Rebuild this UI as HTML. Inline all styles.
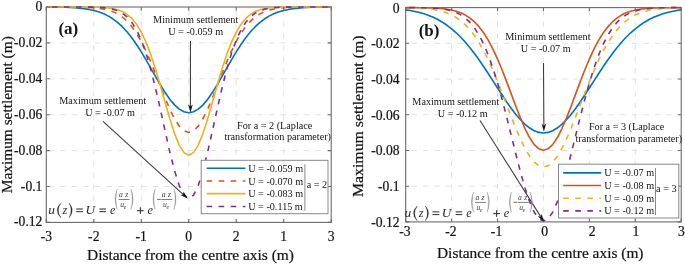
<!DOCTYPE html>
<html><head><meta charset="utf-8"><style>html,body{margin:0;padding:0;background:#fff;}svg{display:block;will-change:transform;}</style></head>
<body>
<svg width="685" height="264" viewBox="0 0 685 264" font-family="&quot;Liberation Serif&quot;, serif">
<rect width="685" height="264" fill="#fff"/>
<path d="M93.78,7.00V222.40M141.27,7.00V222.40M188.75,7.00V222.40M236.23,7.00V222.40M283.72,7.00V222.40" stroke="#dcdcdc" stroke-width="0.9" stroke-dasharray="5.2 6.4" stroke-dashoffset="-3.2" fill="none"/>
<path d="M46.30,42.90H331.20M46.30,78.80H331.20M46.30,114.70H331.20M46.30,150.60H331.20M46.30,186.50H331.20" stroke="#dcdcdc" stroke-width="0.9" stroke-dasharray="5.2 6.4" stroke-dashoffset="-2.3" fill="none"/>
<rect x="46.30" y="7.00" width="284.90" height="215.40" fill="none" stroke="#6a6a6a" stroke-width="1.1"/>
<polyline points="46.30,7.05 51.05,7.08 55.80,7.13 60.55,7.20 65.29,7.32 70.04,7.50 74.79,7.76 79.54,8.13 84.29,8.67 89.04,9.41 93.78,10.43 98.53,11.79 103.28,13.57 108.03,15.87 112.78,18.78 117.53,22.36 122.27,26.70 127.02,31.83 131.77,37.76 136.52,44.47 141.27,51.86 146.02,59.79 150.76,68.08 155.51,76.46 160.26,84.65 165.01,92.33 169.76,99.17 174.50,104.87 179.25,109.16 184.00,111.82 188.75,112.73 193.50,111.82 198.25,109.16 203.00,104.87 207.74,99.17 212.49,92.33 217.24,84.65 221.99,76.46 226.74,68.08 231.48,59.79 236.23,51.86 240.98,44.47 245.73,37.76 250.48,31.83 255.23,26.70 259.98,22.36 264.72,18.78 269.47,15.87 274.22,13.57 278.97,11.79 283.72,10.43 288.46,9.41 293.21,8.67 297.96,8.13 302.71,7.76 307.46,7.50 312.21,7.32 316.95,7.20 321.70,7.13 326.45,7.08 331.20,7.05" stroke="#0072BD" stroke-width="1.6" fill="none" stroke-linejoin="round"/>
<polyline points="46.30,7.00 51.05,7.00 55.80,7.01 60.55,7.01 65.29,7.02 70.04,7.04 74.79,7.07 79.54,7.14 84.29,7.24 89.04,7.42 93.78,7.72 98.53,8.19 103.28,8.91 108.03,10.00 112.78,11.60 117.53,13.87 122.27,16.98 127.02,21.15 131.77,26.54 136.52,33.30 141.27,41.49 146.02,51.08 150.76,61.91 155.51,73.64 160.26,85.82 165.01,97.85 169.76,109.05 174.50,118.70 179.25,126.15 184.00,130.86 188.75,132.47 193.50,130.86 198.25,126.15 203.00,118.70 207.74,109.05 212.49,97.85 217.24,85.82 221.99,73.64 226.74,61.91 231.48,51.08 236.23,41.49 240.98,33.30 245.73,26.54 250.48,21.15 255.23,16.98 259.98,13.87 264.72,11.60 269.47,10.00 274.22,8.91 278.97,8.19 283.72,7.72 288.46,7.42 293.21,7.24 297.96,7.14 302.71,7.07 307.46,7.04 312.21,7.02 316.95,7.01 321.70,7.01 326.45,7.00 331.20,7.00" stroke="#D95319" stroke-width="1.6" fill="none" stroke-dasharray="5.6 6.4" stroke-dashoffset="-5.5" stroke-linejoin="round"/>
<polyline points="46.30,7.00 51.05,7.00 55.80,7.00 60.55,7.00 65.29,7.00 70.04,7.00 74.79,7.01 79.54,7.01 84.29,7.03 89.04,7.06 93.78,7.12 98.53,7.24 103.28,7.47 108.03,7.87 112.78,8.57 117.53,9.72 122.27,11.55 127.02,14.35 131.77,18.46 136.52,24.25 141.27,32.06 146.02,42.13 150.76,54.52 155.51,69.05 160.26,85.18 165.01,102.07 169.76,118.56 174.50,133.34 179.25,145.09 184.00,152.65 188.75,155.27 193.50,152.65 198.25,145.09 203.00,133.34 207.74,118.56 212.49,102.07 217.24,85.18 221.99,69.05 226.74,54.52 231.48,42.13 236.23,32.06 240.98,24.25 245.73,18.46 250.48,14.35 255.23,11.55 259.98,9.72 264.72,8.57 269.47,7.87 274.22,7.47 278.97,7.24 283.72,7.12 288.46,7.06 293.21,7.03 297.96,7.01 302.71,7.01 307.46,7.00 312.21,7.00 316.95,7.00 321.70,7.00 326.45,7.00 331.20,7.00" stroke="#EDB120" stroke-width="1.6" fill="none" stroke-linejoin="round"/>
<polyline points="46.30,7.00 51.05,7.00 55.80,7.00 60.55,7.00 65.29,7.00 70.04,7.00 74.79,7.01 79.54,7.02 84.29,7.04 89.04,7.08 93.78,7.17 98.53,7.34 103.28,7.65 108.03,8.20 112.78,9.15 117.53,10.70 122.27,13.15 127.02,16.88 131.77,22.31 136.52,29.93 141.27,40.14 146.02,53.25 150.76,69.32 155.51,88.08 160.26,108.85 165.01,130.53 169.76,151.65 174.50,170.55 179.25,185.55 184.00,195.20 188.75,198.53 193.50,195.20 198.25,185.55 203.00,170.55 207.74,151.65 212.49,130.53 217.24,108.85 221.99,88.08 226.74,69.32 231.48,53.25 236.23,40.14 240.98,29.93 245.73,22.31 250.48,16.88 255.23,13.15 259.98,10.70 264.72,9.15 269.47,8.20 274.22,7.65 278.97,7.34 283.72,7.17 288.46,7.08 293.21,7.04 297.96,7.02 302.71,7.01 307.46,7.00 312.21,7.00 316.95,7.00 321.70,7.00 326.45,7.00 331.20,7.00" stroke="#7E2F8E" stroke-width="1.6" fill="none" stroke-dasharray="5.6 6.4" stroke-dashoffset="-5.7" stroke-linejoin="round"/>
<path d="M46.30,222.40v-3.5M46.30,7.00v3.5M93.78,222.40v-3.5M93.78,7.00v3.5M141.27,222.40v-3.5M141.27,7.00v3.5M188.75,222.40v-3.5M188.75,7.00v3.5M236.23,222.40v-3.5M236.23,7.00v3.5M283.72,222.40v-3.5M283.72,7.00v3.5M331.20,222.40v-3.5M331.20,7.00v3.5M46.30,7.00h3.5M331.20,7.00h-3.5M46.30,42.90h3.5M331.20,42.90h-3.5M46.30,78.80h3.5M331.20,78.80h-3.5M46.30,114.70h3.5M331.20,114.70h-3.5M46.30,150.60h3.5M331.20,150.60h-3.5M46.30,186.50h3.5M331.20,186.50h-3.5M46.30,222.40h3.5M331.20,222.40h-3.5" stroke="#6a6a6a" stroke-width="1.1" fill="none"/>
<text x="46.30" y="241.40" font-size="13.6" text-anchor="middle" fill="#141414" stroke="#141414" stroke-width="0.22" >-3</text>
<text x="93.78" y="241.40" font-size="13.6" text-anchor="middle" fill="#141414" stroke="#141414" stroke-width="0.22" >-2</text>
<text x="141.27" y="241.40" font-size="13.6" text-anchor="middle" fill="#141414" stroke="#141414" stroke-width="0.22" >-1</text>
<text x="188.75" y="241.40" font-size="13.6" text-anchor="middle" fill="#141414" stroke="#141414" stroke-width="0.22" >0</text>
<text x="236.23" y="241.40" font-size="13.6" text-anchor="middle" fill="#141414" stroke="#141414" stroke-width="0.22" >2</text>
<text x="283.72" y="241.40" font-size="13.6" text-anchor="middle" fill="#141414" stroke="#141414" stroke-width="0.22" >1</text>
<text x="331.20" y="241.40" font-size="13.6" text-anchor="middle" fill="#141414" stroke="#141414" stroke-width="0.22" >3</text>
<text x="42.40" y="11.00" font-size="13.6" text-anchor="end" fill="#141414" stroke="#141414" stroke-width="0.22" >0</text>
<text x="42.40" y="46.90" font-size="13.6" text-anchor="end" fill="#141414" stroke="#141414" stroke-width="0.22" >-0.02</text>
<text x="42.40" y="82.80" font-size="13.6" text-anchor="end" fill="#141414" stroke="#141414" stroke-width="0.22" >-0.04</text>
<text x="42.40" y="118.70" font-size="13.6" text-anchor="end" fill="#141414" stroke="#141414" stroke-width="0.22" >-0.06</text>
<text x="42.40" y="154.60" font-size="13.6" text-anchor="end" fill="#141414" stroke="#141414" stroke-width="0.22" >-0.08</text>
<text x="42.40" y="190.50" font-size="13.6" text-anchor="end" fill="#141414" stroke="#141414" stroke-width="0.22" >-0.1</text>
<text x="42.40" y="226.40" font-size="13.6" text-anchor="end" fill="#141414" stroke="#141414" stroke-width="0.22" >-0.12</text>
<text x="87.00" y="259.70" font-size="15.5" text-anchor="start" fill="#141414" stroke="#141414" stroke-width="0.22" textLength="207.0" lengthAdjust="spacingAndGlyphs">Distance from the centre axis (m)</text>
<text transform="translate(12.20,193.20) rotate(-90)" x="0" y="0" font-size="15.5" fill="#141414" stroke="#141414" stroke-width="0.22" textLength="157.0" lengthAdjust="spacingAndGlyphs">Maximum settlement (m)</text>
<text x="58.40" y="33.80" font-size="17" text-anchor="start" font-weight="bold" fill="#141414" >(a)</text>
<path d="M451.62,7.60V221.90M497.53,7.60V221.90M543.45,7.60V221.90M589.37,7.60V221.90M635.28,7.60V221.90" stroke="#dcdcdc" stroke-width="0.9" stroke-dasharray="5.2 6.4" stroke-dashoffset="-2.4" fill="none"/>
<path d="M405.70,43.32H681.20M405.70,79.03H681.20M405.70,114.75H681.20M405.70,150.47H681.20M405.70,186.18H681.20" stroke="#dcdcdc" stroke-width="0.9" stroke-dasharray="5.2 6.4" stroke-dashoffset="-5.8" fill="none"/>
<rect x="405.70" y="7.60" width="275.50" height="214.30" fill="none" stroke="#6a6a6a" stroke-width="1.1"/>
<polyline points="405.70,9.90 410.29,10.58 414.88,11.45 419.48,12.51 424.07,13.81 428.66,15.39 433.25,17.29 437.84,19.54 442.43,22.19 447.03,25.26 451.62,28.79 456.21,32.80 460.80,37.30 465.39,42.30 469.98,47.78 474.58,53.72 479.17,60.06 483.76,66.75 488.35,73.70 492.94,80.82 497.53,87.98 502.13,95.06 506.72,101.93 511.31,108.43 515.90,114.43 520.49,119.78 525.08,124.36 529.68,128.05 534.27,130.76 538.86,132.41 543.45,132.97 548.04,132.41 552.63,130.76 557.23,128.05 561.82,124.36 566.41,119.78 571.00,114.43 575.59,108.43 580.18,101.93 584.78,95.06 589.37,87.98 593.96,80.82 598.55,73.70 603.14,66.75 607.73,60.06 612.33,53.72 616.92,47.78 621.51,42.30 626.10,37.30 630.69,32.80 635.28,28.79 639.88,25.26 644.47,22.19 649.06,19.54 653.65,17.29 658.24,15.39 662.83,13.81 667.43,12.51 672.02,11.45 676.61,10.58 681.20,9.90" stroke="#0072BD" stroke-width="1.6" fill="none" stroke-linejoin="round"/>
<polyline points="405.70,7.61 410.29,7.63 414.88,7.65 419.48,7.68 424.07,7.74 428.66,7.84 433.25,8.00 437.84,8.25 442.43,8.62 447.03,9.19 451.62,10.01 456.21,11.19 460.80,12.83 465.39,15.08 469.98,18.07 474.58,21.97 479.17,26.91 483.76,33.04 488.35,40.43 492.94,49.12 497.53,59.04 502.13,70.04 506.72,81.87 511.31,94.15 515.90,106.43 520.49,118.16 525.08,128.80 529.68,137.77 534.27,144.58 538.86,148.84 543.45,150.29 548.04,148.84 552.63,144.58 557.23,137.77 561.82,128.80 566.41,118.16 571.00,106.43 575.59,94.15 580.18,81.87 584.78,70.04 589.37,59.04 593.96,49.12 598.55,40.43 603.14,33.04 607.73,26.91 612.33,21.97 616.92,18.07 621.51,15.08 626.10,12.83 630.69,11.19 635.28,10.01 639.88,9.19 644.47,8.62 649.06,8.25 653.65,8.00 658.24,7.84 662.83,7.74 667.43,7.68 672.02,7.65 676.61,7.63 681.20,7.61" stroke="#D95319" stroke-width="1.6" fill="none" stroke-linejoin="round"/>
<polyline points="405.70,7.76 410.29,7.85 414.88,7.98 419.48,8.18 424.07,8.48 428.66,8.90 433.25,9.50 437.84,10.32 442.43,11.45 447.03,12.96 451.62,14.94 456.21,17.52 460.80,20.78 465.39,24.86 469.98,29.84 474.58,35.84 479.17,42.89 483.76,51.04 488.35,60.26 492.94,70.46 497.53,81.48 502.13,93.11 506.72,105.06 511.31,116.98 515.90,128.49 520.49,139.17 525.08,148.60 529.68,156.40 534.27,162.24 538.86,165.85 543.45,167.07 548.04,165.85 552.63,162.24 557.23,156.40 561.82,148.60 566.41,139.17 571.00,128.49 575.59,116.98 580.18,105.06 584.78,93.11 589.37,81.48 593.96,70.46 598.55,60.26 603.14,51.04 607.73,42.89 612.33,35.84 616.92,29.84 621.51,24.86 626.10,20.78 630.69,17.52 635.28,14.94 639.88,12.96 644.47,11.45 649.06,10.32 653.65,9.50 658.24,8.90 662.83,8.48 667.43,8.18 672.02,7.98 676.61,7.85 681.20,7.76" stroke="#EDB120" stroke-width="1.6" fill="none" stroke-dasharray="5.6 6.4" stroke-dashoffset="-2.1" stroke-linejoin="round"/>
<polyline points="405.70,7.62 410.29,7.63 414.88,7.66 419.48,7.71 424.07,7.79 428.66,7.92 433.25,8.13 437.84,8.47 442.43,8.98 447.03,9.76 451.62,10.91 456.21,12.57 460.80,14.91 465.39,18.13 469.98,22.44 474.58,28.10 479.17,35.33 483.76,44.33 488.35,55.25 492.94,68.14 497.53,82.94 502.13,99.42 506.72,117.20 511.31,135.72 515.90,154.30 520.49,172.10 525.08,188.26 529.68,201.92 534.27,212.30 538.86,218.80 543.45,221.01 548.04,218.80 552.63,212.30 557.23,201.92 561.82,188.26 566.41,172.10 571.00,154.30 575.59,135.72 580.18,117.20 584.78,99.42 589.37,82.94 593.96,68.14 598.55,55.25 603.14,44.33 607.73,35.33 612.33,28.10 616.92,22.44 621.51,18.13 626.10,14.91 630.69,12.57 635.28,10.91 639.88,9.76 644.47,8.98 649.06,8.47 653.65,8.13 658.24,7.92 662.83,7.79 667.43,7.71 672.02,7.66 676.61,7.63 681.20,7.62" stroke="#7E2F8E" stroke-width="1.6" fill="none" stroke-dasharray="5.6 6.4" stroke-dashoffset="-3.2" stroke-linejoin="round"/>
<path d="M405.70,221.90v-3.5M405.70,7.60v3.5M451.62,221.90v-3.5M451.62,7.60v3.5M497.53,221.90v-3.5M497.53,7.60v3.5M543.45,221.90v-3.5M543.45,7.60v3.5M589.37,221.90v-3.5M589.37,7.60v3.5M635.28,221.90v-3.5M635.28,7.60v3.5M681.20,221.90v-3.5M681.20,7.60v3.5M405.70,7.60h3.5M681.20,7.60h-3.5M405.70,43.32h3.5M681.20,43.32h-3.5M405.70,79.03h3.5M681.20,79.03h-3.5M405.70,114.75h3.5M681.20,114.75h-3.5M405.70,150.47h3.5M681.20,150.47h-3.5M405.70,186.18h3.5M681.20,186.18h-3.5M405.70,221.90h3.5M681.20,221.90h-3.5" stroke="#6a6a6a" stroke-width="1.1" fill="none"/>
<text x="404.80" y="235.70" font-size="13.6" text-anchor="middle" fill="#141414" stroke="#141414" stroke-width="0.22" >-3</text>
<text x="450.82" y="235.70" font-size="13.6" text-anchor="middle" fill="#141414" stroke="#141414" stroke-width="0.22" >-2</text>
<text x="496.53" y="235.70" font-size="13.6" text-anchor="middle" fill="#141414" stroke="#141414" stroke-width="0.22" >-1</text>
<text x="544.65" y="235.70" font-size="13.6" text-anchor="middle" fill="#141414" stroke="#141414" stroke-width="0.22" >0</text>
<text x="592.07" y="235.70" font-size="13.6" text-anchor="middle" fill="#141414" stroke="#141414" stroke-width="0.22" >2</text>
<text x="635.78" y="235.70" font-size="13.6" text-anchor="middle" fill="#141414" stroke="#141414" stroke-width="0.22" >1</text>
<text x="681.40" y="235.70" font-size="13.6" text-anchor="middle" fill="#141414" stroke="#141414" stroke-width="0.22" >3</text>
<text x="399.60" y="12.60" font-size="13.6" text-anchor="end" fill="#141414" stroke="#141414" stroke-width="0.22" >0</text>
<text x="399.60" y="48.32" font-size="13.6" text-anchor="end" fill="#141414" stroke="#141414" stroke-width="0.22" >-0.02</text>
<text x="399.60" y="84.03" font-size="13.6" text-anchor="end" fill="#141414" stroke="#141414" stroke-width="0.22" >-0.04</text>
<text x="399.60" y="119.75" font-size="13.6" text-anchor="end" fill="#141414" stroke="#141414" stroke-width="0.22" >-0.06</text>
<text x="399.60" y="155.47" font-size="13.6" text-anchor="end" fill="#141414" stroke="#141414" stroke-width="0.22" >-0.08</text>
<text x="399.60" y="191.18" font-size="13.6" text-anchor="end" fill="#141414" stroke="#141414" stroke-width="0.22" >-0.1</text>
<text x="399.60" y="226.90" font-size="13.6" text-anchor="end" fill="#141414" stroke="#141414" stroke-width="0.22" >-0.12</text>
<text x="437.00" y="257.90" font-size="15.5" text-anchor="start" fill="#141414" stroke="#141414" stroke-width="0.22" textLength="206.5" lengthAdjust="spacingAndGlyphs">Distance from the centre axis (m)</text>
<text transform="translate(362.60,197.00) rotate(-90)" x="0" y="0" font-size="15.5" fill="#141414" stroke="#141414" stroke-width="0.22" textLength="161.5" lengthAdjust="spacingAndGlyphs">Maximum settlement (m)</text>
<text x="418.70" y="36.20" font-size="17" text-anchor="start" font-weight="bold" fill="#141414" >(b)</text>
<text x="195.70" y="23.40" font-size="10.2" text-anchor="middle" fill="#141414" >Minimum settlement</text>
<text x="195.70" y="35.30" font-size="10.2" text-anchor="middle" fill="#141414" >U = -0.059 m</text>
<line x1="190.45" y1="41.10" x2="190.45" y2="106.40" stroke="#3a3a3a" stroke-width="1.05"/>
<polygon points="190.45,112.40 188.15,104.40 190.45,106.60 192.75,104.40" fill="#111"/>
<text x="102.70" y="103.80" font-size="10.2" text-anchor="middle" fill="#141414" >Maximum settlement</text>
<text x="110.10" y="115.70" font-size="10.2" text-anchor="middle" fill="#141414" >U = -0.07 m</text>
<line x1="103.00" y1="121.30" x2="183.37" y2="194.56" stroke="#3a3a3a" stroke-width="1.05"/>
<polygon points="187.80,198.60 180.34,194.91 183.51,194.69 183.44,191.51" fill="#111"/>
<text x="274.70" y="128.50" font-size="10.2" text-anchor="middle" fill="#141414" >For a = 2 (Laplace</text>
<text x="277.70" y="139.80" font-size="10.2" text-anchor="middle" fill="#141414" >transformation parameter)</text>
<rect x="201.20" y="160.30" width="126.80" height="53.40" fill="#fff" stroke="#888" stroke-width="1"/>
<line x1="304.90" y1="164.30" x2="304.90" y2="210.70" stroke="#8a8a8a" stroke-width="1"/>
<line x1="206.60" y1="168.20" x2="245.40" y2="168.20" stroke="#0072BD" stroke-width="1.6"/>
<text x="248.20" y="171.80" font-size="10.2" text-anchor="start" fill="#141414" >U = -0.059 m</text>
<line x1="206.60" y1="180.95" x2="245.40" y2="180.95" stroke="#D95319" stroke-width="1.6" stroke-dasharray="5.6 6.45"/>
<text x="248.20" y="184.55" font-size="10.2" text-anchor="start" fill="#141414" >U = -0.070 m</text>
<line x1="206.60" y1="193.65" x2="245.40" y2="193.65" stroke="#EDB120" stroke-width="1.6"/>
<text x="248.20" y="197.25" font-size="10.2" text-anchor="start" fill="#141414" >U = -0.083 m</text>
<line x1="206.60" y1="206.45" x2="245.40" y2="206.45" stroke="#7E2F8E" stroke-width="1.6" stroke-dasharray="5.6 6.45"/>
<text x="248.20" y="210.05" font-size="10.2" text-anchor="start" fill="#141414" >U = -0.115 m</text>
<text x="306.70" y="188.40" font-size="10.2" text-anchor="start" fill="#141414" >a = 2</text>
<text x="48.30" y="213.70" font-size="13.4" text-anchor="start" font-style="italic" fill="#2a2a2a" >u</text>
<path d="M60.80,203.10Q53.40,210.45 60.80,217.80L60.95,217.60Q55.70,210.45 60.95,203.30Z" fill="#2a2a2a" stroke="#2a2a2a" stroke-width="0.25"/>
<text x="62.40" y="213.70" font-size="12.4" text-anchor="start" font-style="italic" fill="#2a2a2a" >z</text>
<path d="M69.20,203.10Q75.40,210.45 69.20,217.80L69.05,217.60Q73.10,210.45 69.05,203.30Z" fill="#2a2a2a" stroke="#2a2a2a" stroke-width="0.25"/>
<path d="M76.20,209.00H83.00M76.20,211.70H83.00" stroke="#2a2a2a" stroke-width="1.0" fill="none"/>
<text x="85.50" y="213.70" font-size="13.2" text-anchor="start" font-style="italic" fill="#2a2a2a" >U</text>
<path d="M99.40,209.00H106.00M99.40,211.70H106.00" stroke="#2a2a2a" stroke-width="1.0" fill="none"/>
<text x="109.90" y="213.70" font-size="12.2" text-anchor="start" font-style="italic" fill="#2a2a2a" >e</text>
<path d="M137.00,210.70H143.70M140.35,207.30V214.00" stroke="#2a2a2a" stroke-width="1.0" fill="none"/>
<text x="147.50" y="213.70" font-size="12.2" text-anchor="start" font-style="italic" fill="#2a2a2a" >e</text>
<path d="M117.10,189.10Q113.10,199.30 117.10,209.50L117.25,209.30Q114.60,199.30 117.25,189.30Z" fill="#8a8a8a" stroke="#8a8a8a" stroke-width="0.25"/>
<path d="M131.00,189.10Q135.20,199.30 131.00,209.50L130.85,209.30Q133.70,199.30 130.85,189.30Z" fill="#8a8a8a" stroke="#8a8a8a" stroke-width="0.25"/>
<line x1="118.70" y1="199.50" x2="129.70" y2="199.50" stroke="#555" stroke-width="0.75"/>
<text x="119.10" y="196.80" font-size="7.6" text-anchor="start" font-style="italic" fill="#3a3a3a" >a</text>
<text x="125.20" y="196.80" font-size="7.6" text-anchor="start" font-style="italic" fill="#3a3a3a" >z</text>
<text x="120.30" y="206.60" font-size="7.6" text-anchor="start" font-style="italic" fill="#3a3a3a" >u</text>
<text x="123.80" y="208.70" font-size="5.6" text-anchor="start" font-style="italic" fill="#3a3a3a" >e</text>
<path d="M155.00,189.10Q151.00,199.30 155.00,209.50L155.15,209.30Q152.50,199.30 155.15,189.30Z" fill="#8a8a8a" stroke="#8a8a8a" stroke-width="0.25"/>
<path d="M174.00,189.10Q178.20,199.30 174.00,209.50L173.85,209.30Q176.70,199.30 173.85,189.30Z" fill="#8a8a8a" stroke="#8a8a8a" stroke-width="0.25"/>
<line x1="157.10" y1="199.40" x2="160.80" y2="199.40" stroke="#3a3a3a" stroke-width="0.75"/>
<line x1="161.40" y1="199.50" x2="172.40" y2="199.50" stroke="#555" stroke-width="0.75"/>
<text x="161.80" y="196.80" font-size="7.6" text-anchor="start" font-style="italic" fill="#3a3a3a" >a</text>
<text x="167.90" y="196.80" font-size="7.6" text-anchor="start" font-style="italic" fill="#3a3a3a" >z</text>
<text x="163.00" y="206.60" font-size="7.6" text-anchor="start" font-style="italic" fill="#3a3a3a" >u</text>
<text x="166.50" y="208.70" font-size="5.6" text-anchor="start" font-style="italic" fill="#3a3a3a" >e</text>
<text x="547.90" y="39.70" font-size="10.2" text-anchor="middle" fill="#141414" >Minimum settlement</text>
<text x="545.70" y="51.50" font-size="10.2" text-anchor="middle" fill="#141414" >U = -0.07 m</text>
<line x1="543.50" y1="62.90" x2="543.87" y2="125.60" stroke="#3a3a3a" stroke-width="1.05"/>
<polygon points="543.90,131.60 541.55,123.61 543.87,125.80 546.15,123.59" fill="#111"/>
<text x="455.80" y="105.10" font-size="10.2" text-anchor="middle" fill="#141414" >Maximum settlement</text>
<text x="462.70" y="116.50" font-size="10.2" text-anchor="middle" fill="#141414" >U = -0.12 m</text>
<line x1="480.00" y1="120.50" x2="540.70" y2="216.63" stroke="#3a3a3a" stroke-width="1.05"/>
<polygon points="543.90,221.70 537.68,216.16 540.80,216.80 541.57,213.71" fill="#111"/>
<text x="626.60" y="129.80" font-size="10.2" text-anchor="middle" fill="#141414" >For a = 3 (Laplace</text>
<text x="628.80" y="141.50" font-size="10.2" text-anchor="middle" fill="#141414" >transformation parameter)</text>
<rect x="558.50" y="164.20" width="120.30" height="53.80" fill="#fff" stroke="#888" stroke-width="1"/>
<line x1="655.50" y1="168.20" x2="655.50" y2="215.00" stroke="#8a8a8a" stroke-width="1"/>
<line x1="563.20" y1="172.85" x2="601.20" y2="172.85" stroke="#0072BD" stroke-width="1.6"/>
<text x="604.20" y="176.45" font-size="10.2" text-anchor="start" fill="#141414" >U = -0.07 m</text>
<line x1="563.20" y1="185.50" x2="601.20" y2="185.50" stroke="#D95319" stroke-width="1.6"/>
<text x="604.20" y="189.10" font-size="10.2" text-anchor="start" fill="#141414" >U = -0.08 m</text>
<line x1="563.20" y1="198.20" x2="601.20" y2="198.20" stroke="#EDB120" stroke-width="1.6" stroke-dasharray="5.6 6.45"/>
<text x="604.20" y="201.80" font-size="10.2" text-anchor="start" fill="#141414" >U = -0.09 m</text>
<line x1="563.20" y1="210.85" x2="601.20" y2="210.85" stroke="#7E2F8E" stroke-width="1.6" stroke-dasharray="5.6 6.45"/>
<text x="604.20" y="214.45" font-size="10.2" text-anchor="start" fill="#141414" >U = -0.12 m</text>
<text x="656.10" y="192.10" font-size="10.2" text-anchor="start" fill="#141414" >a = 3</text>
<text x="404.60" y="216.60" font-size="13.4" text-anchor="start" font-style="italic" fill="#2a2a2a" >u</text>
<path d="M417.10,206.00Q409.70,213.35 417.10,220.70L417.25,220.50Q412.00,213.35 417.25,206.20Z" fill="#2a2a2a" stroke="#2a2a2a" stroke-width="0.25"/>
<text x="418.70" y="216.60" font-size="12.4" text-anchor="start" font-style="italic" fill="#2a2a2a" >z</text>
<path d="M425.50,206.00Q431.70,213.35 425.50,220.70L425.35,220.50Q429.40,213.35 425.35,206.20Z" fill="#2a2a2a" stroke="#2a2a2a" stroke-width="0.25"/>
<path d="M432.50,211.90H439.30M432.50,214.60H439.30" stroke="#2a2a2a" stroke-width="1.0" fill="none"/>
<text x="441.80" y="216.60" font-size="13.2" text-anchor="start" font-style="italic" fill="#2a2a2a" >U</text>
<path d="M455.70,211.90H462.30M455.70,214.60H462.30" stroke="#2a2a2a" stroke-width="1.0" fill="none"/>
<text x="466.20" y="216.60" font-size="12.2" text-anchor="start" font-style="italic" fill="#2a2a2a" >e</text>
<path d="M493.30,213.60H500.00M496.65,210.20V216.90" stroke="#2a2a2a" stroke-width="1.0" fill="none"/>
<text x="503.80" y="216.60" font-size="12.2" text-anchor="start" font-style="italic" fill="#2a2a2a" >e</text>
<path d="M473.40,192.00Q469.40,202.20 473.40,212.40L473.55,212.20Q470.90,202.20 473.55,192.20Z" fill="#8a8a8a" stroke="#8a8a8a" stroke-width="0.25"/>
<path d="M487.30,192.00Q491.50,202.20 487.30,212.40L487.15,212.20Q490.00,202.20 487.15,192.20Z" fill="#8a8a8a" stroke="#8a8a8a" stroke-width="0.25"/>
<line x1="475.00" y1="202.40" x2="486.00" y2="202.40" stroke="#555" stroke-width="0.75"/>
<text x="475.40" y="199.70" font-size="7.6" text-anchor="start" font-style="italic" fill="#3a3a3a" >a</text>
<text x="481.50" y="199.70" font-size="7.6" text-anchor="start" font-style="italic" fill="#3a3a3a" >z</text>
<text x="476.60" y="209.50" font-size="7.6" text-anchor="start" font-style="italic" fill="#3a3a3a" >u</text>
<text x="480.10" y="211.60" font-size="5.6" text-anchor="start" font-style="italic" fill="#3a3a3a" >e</text>
<path d="M511.30,192.00Q507.30,202.20 511.30,212.40L511.45,212.20Q508.80,202.20 511.45,192.20Z" fill="#8a8a8a" stroke="#8a8a8a" stroke-width="0.25"/>
<path d="M530.30,192.00Q534.50,202.20 530.30,212.40L530.15,212.20Q533.00,202.20 530.15,192.20Z" fill="#8a8a8a" stroke="#8a8a8a" stroke-width="0.25"/>
<line x1="513.40" y1="202.30" x2="517.10" y2="202.30" stroke="#3a3a3a" stroke-width="0.75"/>
<line x1="517.70" y1="202.40" x2="528.70" y2="202.40" stroke="#555" stroke-width="0.75"/>
<text x="518.10" y="199.70" font-size="7.6" text-anchor="start" font-style="italic" fill="#3a3a3a" >a</text>
<text x="524.20" y="199.70" font-size="7.6" text-anchor="start" font-style="italic" fill="#3a3a3a" >z</text>
<text x="519.30" y="209.50" font-size="7.6" text-anchor="start" font-style="italic" fill="#3a3a3a" >u</text>
<text x="522.80" y="211.60" font-size="5.6" text-anchor="start" font-style="italic" fill="#3a3a3a" >e</text>
</svg>
</body></html>
